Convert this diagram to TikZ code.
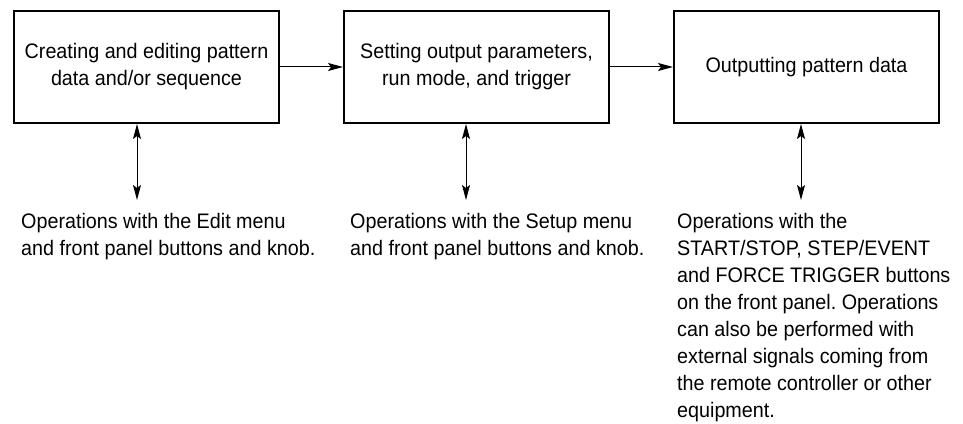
\documentclass[tikz,border=0pt]{standalone}
\usepackage{fontspec}
\setmainfont[FakeStretch=0.94]{Liberation Sans}
\usepackage{xcolor}
\usetikzlibrary{arrows.meta,positioning}
\frenchspacing

\begin{document}
\begin{tikzpicture}[
  x=1pt, y=1pt,
  node distance=63pt,
  font=\fontsize{21}{27}\selectfont,
  box/.style={rectangle, draw, line width=2pt, align=center, minimum width=265pt, minimum height=112pt, inner sep=0pt},
  note/.style={align=left, anchor=north west, inner sep=0pt},
  arrow/.style={-{Stealth[length=15pt,width=8pt,inset=3pt]}, line width=1pt},
  twoway/.style={{Stealth[length=15pt,width=8pt,inset=3pt]}-{Stealth[length=15pt,width=8pt,inset=3pt]}, line width=1pt}
]
\useasboundingbox (0,0) rectangle (963,423);

\node[box] (create) at (146.5,356) {Creating and editing pattern\\data and/or sequence};
\node[box, right=of create] (setup) {Setting output parameters,\\run mode, and trigger};
\node[box, right=of setup] (output) {Outputting pattern data};

\draw[arrow] (create) -- (setup);
\draw[arrow] (setup) -- (output);

\node[note] (editops) at (21,210) {Operations with the Edit menu\\and front panel buttons and knob.};
\node[note] (setupops) at (350,210) {Operations with the Setup menu\\and front panel buttons and knob.};
\node[note] (outops) at (677,210) {Operations with the\\START/STOP, STEP/EVENT\\and FORCE TRIGGER buttons\\on the front panel. Operations\\can also be performed with\\external signals coming from\\the remote controller or other\\equipment.};

% arrow ends above the notes
\coordinate (editend) at (137,223);
\coordinate (setupend) at (466,223);
\coordinate (outend) at (801,223);

\draw[twoway] (create.south -| editend) -- (editend);
\draw[twoway] (setup.south -| setupend) -- (setupend);
\draw[twoway] (output.south -| outend) -- (outend);

\end{tikzpicture}
\end{document}
